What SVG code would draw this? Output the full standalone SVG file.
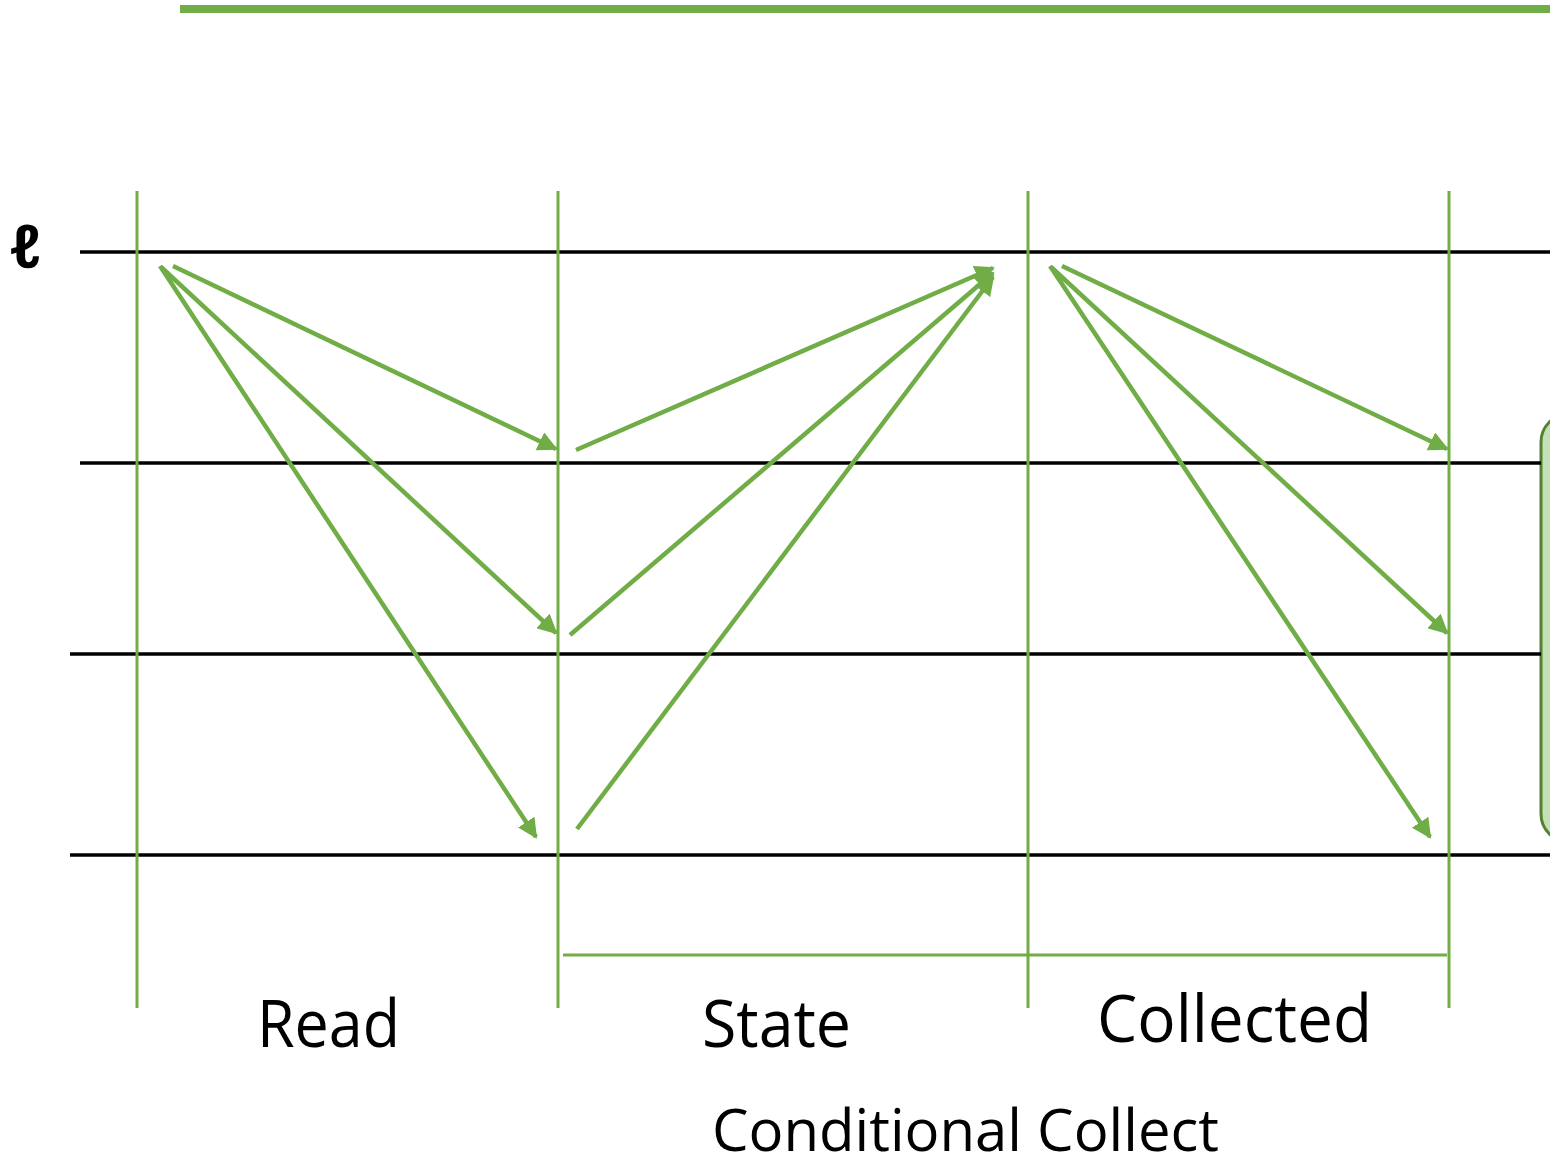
<svg xmlns="http://www.w3.org/2000/svg" width="1550" height="1167" viewBox="0 0 1550 1167">
  <style>
    .lane { stroke: #70AD47; stroke-width: 3; fill: none; }
    .row { stroke: #000000; stroke-width: 3.5; fill: none; }
    .msg { stroke: #70AD47; stroke-width: 4.5; fill: none; marker-end: url(#tip); }
    .lbl { font-family: "Open Sans", "Liberation Sans", sans-serif; fill: #000000; }
  </style>
  <defs>
    <marker id="tip" viewBox="0 0 10 10" refX="9" refY="5" markerWidth="4.4" markerHeight="4.4" orient="auto" markerUnits="strokeWidth">
      <path d="M0,0 L10,5 L0,10 z" fill="#70AD47"/>
    </marker>
  </defs>
  <rect width="1550" height="1167" fill="#ffffff"/>

  <!-- top band -->
  <rect id="band" x="180" y="5" width="1370" height="8" fill="#70AD47"/>

  <!-- side panel at right edge -->
  <g id="panel">
    <rect x="1541" y="414" width="60" height="428" rx="28" ry="28" fill="#C5E0B4" stroke="#548235" stroke-width="3"/>
  </g>

  <!-- horizontal level lines -->
  <g id="levels">
    <line class="row" x1="80" y1="252" x2="1550" y2="252"/>
    <line class="row" x1="80" y1="463" x2="1541" y2="463"/>
    <line class="row" x1="70" y1="654" x2="1541" y2="654"/>
    <line class="row" x1="70" y1="855" x2="1550" y2="855"/>
  </g>

  <!-- phase boundaries -->
  <g id="phases">
    <line class="lane" x1="137" y1="191" x2="137" y2="1008"/>
    <line class="lane" x1="558" y1="191" x2="558" y2="1008"/>
    <line class="lane" x1="1028" y1="191" x2="1028" y2="1008"/>
    <line class="lane" x1="1449" y1="191" x2="1449" y2="1008"/>
    <line class="lane" x1="563" y1="955" x2="1447" y2="955"/>
  </g>

  <!-- connectors -->
  <g id="connectors">
    <!-- read -->
    <line class="msg" x1="173" y1="266" x2="556" y2="449"/>
    <line class="msg" x1="161" y1="267" x2="556" y2="633"/>
    <line class="msg" x1="160" y1="266" x2="536" y2="837"/>
    <!-- state -->
    <line class="msg" x1="576" y1="450" x2="993" y2="268"/>
    <line class="msg" x1="570" y1="635" x2="993" y2="273"/>
    <line class="msg" x1="577" y1="829" x2="993" y2="277"/>
    <!-- collected -->
    <line class="msg" x1="1062" y1="266" x2="1447" y2="449"/>
    <line class="msg" x1="1051" y1="267" x2="1447" y2="633"/>
    <line class="msg" x1="1050" y1="266" x2="1430" y2="837"/>
  </g>

  <!-- labels -->
  <g id="labels">
    <text class="lbl" x="10" y="268" font-family="DejaVu Sans, sans-serif" font-size="60" font-weight="bold">ℓ</text>
    <text id="read" class="lbl" x="257" y="1047" font-size="66" textLength="143" lengthAdjust="spacingAndGlyphs">Read</text>
    <text id="state" class="lbl" x="702" y="1047" font-size="66" textLength="149" lengthAdjust="spacingAndGlyphs">State</text>
    <text id="collected" class="lbl" x="1097" y="1042" font-size="66" textLength="275" lengthAdjust="spacingAndGlyphs">Collected</text>
    <text id="cond" class="lbl" x="712" y="1151" font-size="58" textLength="507" lengthAdjust="spacingAndGlyphs">Conditional Collect</text>
  </g>
</svg>
